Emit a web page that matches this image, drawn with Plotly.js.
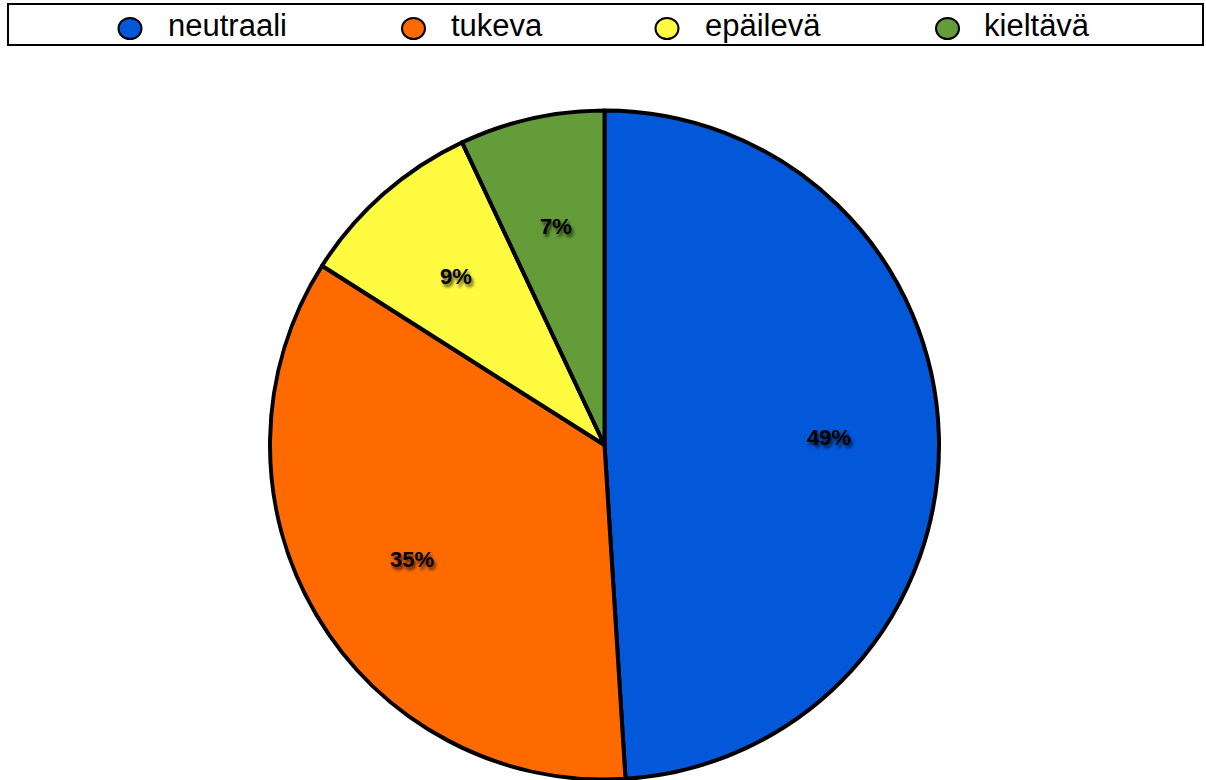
<!DOCTYPE html>
<html>
<head>
<meta charset="utf-8">
<script src="https://cdn.plot.ly/plotly-3.0.1.min.js"></script>
<style>
  html, body { margin: 0; padding: 0; background: #ffffff; }
  #chart { width: 1206px; height: 780px; }
</style>
</head>
<body>
<div id="chart"></div>
<script>
// Share of responses by attitude (percent)
const categories = ["neutraali", "tukeva", "epäilevä", "kieltävä"];
const shares = [49, 35, 9, 7];
const sliceColors = ["#0358d9", "#ff6a00", "#fffb40", "#639c38"];

const W = 1206, H = 780;
const FONT = "Liberation Sans, Arial, Helvetica, sans-serif";

// Pie geometry in pixels
const cx = 604.5, cy = 445, r = 334.5;

const pie = {
  type: "pie",
  labels: categories,
  values: shares,
  sort: false,
  direction: "clockwise",
  rotation: 0,
  marker: { colors: sliceColors, line: { color: "#000000", width: 4 } },
  textinfo: "none",
  hoverinfo: "label+percent",
  showlegend: false,
  domain: {
    x: [(cx - r) / W, (cx + r) / W],
    y: [1 - (cy + r) / H, 1 - (cy - r) / H]
  }
};

const shapes = [];
const annotations = [];

// Percentage labels at two thirds of the radius, on each slice's mid-angle
const total = shares.reduce((a, b) => a + b, 0);
let cum = 0;
shares.forEach((v) => {
  const mid = (cum + v / 2) / total * 2 * Math.PI;
  cum += v;
  const px = cx + 0.67 * r * Math.sin(mid);
  const py = cy - 0.67 * r * Math.cos(mid);
  annotations.push({
    xref: "paper", yref: "paper", x: px / W, y: 1 - py / H,
    xanchor: "center", yanchor: "middle", showarrow: false,
    text: v + "%",
    font: { family: FONT, size: 22, color: "#000000", weight: "bold",
            shadow: "2px 3px 3px rgba(0,0,0,0.65)" }
  });
});

// Legend row drawn across the top: frame, round swatches and names
const legendMarkerX = [130, 413.5, 667, 947.5];
const legendTextX = [166, 449, 703, 982];
const legendY = 28.5;
shapes.push({
  type: "rect", xref: "paper", yref: "paper",
  x0: 8 / W, x1: 1203 / W, y0: 1 - 45 / H, y1: 1 - 4 / H,
  line: { color: "#000000", width: 2 }, fillcolor: "rgba(0,0,0,0)"
});
categories.forEach((name, i) => {
  shapes.push({
    type: "circle", xref: "paper", yref: "paper",
    x0: (legendMarkerX[i] - 11.5) / W, x1: (legendMarkerX[i] + 11.5) / W,
    y0: 1 - (legendY + 10.5) / H, y1: 1 - (legendY - 10.5) / H,
    fillcolor: sliceColors[i], line: { color: "#000000", width: 2 }
  });
  annotations.push({
    xref: "paper", yref: "paper", x: legendTextX[i] / W, y: 1 - 26 / H,
    xanchor: "left", yanchor: "middle", showarrow: false,
    text: name, font: { family: FONT, size: 31, color: "#000000" }
  });
});

const layout = {
  width: W, height: H,
  margin: { l: 0, r: 0, t: 0, b: 0 },
  paper_bgcolor: "#ffffff",
  plot_bgcolor: "#ffffff",
  showlegend: false,
  shapes: shapes,
  annotations: annotations
};

Plotly.newPlot("chart", [pie], layout, { displayModeBar: false, staticPlot: true });
</script>
</body>
</html>
